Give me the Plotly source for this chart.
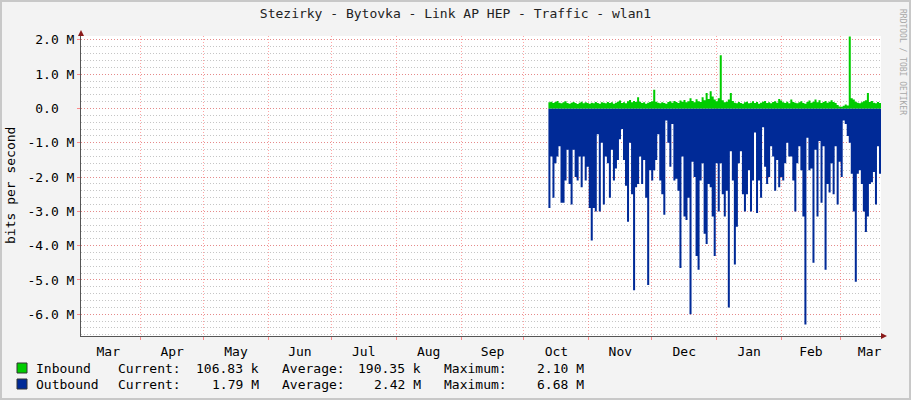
import pandas as pd
import plotly.graph_objects as go

# --- data (bits per second, in millions) ---
outbound = [
    -2.9, -1.4, -2.6, -1.6, -1.4, -1.1, -2.75, -2.75, -2.1, -1.2,
    -2.2, -2.8, -1.2, -2.0, -2.1, -1.4, -2.3, -1.4, -2.1, -1.7,
    -2.9, -3.85, -2.9, -3.0, -0.75, -3.0, -1.0, -2.8, -1.4, -1.6,
    -2.6, -1.2, -2.1, -1.75, -1.5, -0.9, -0.6, -1.5, -2.25, -3.3,
    -1.0, -2.5, -5.3, -2.3, -2.2, -1.4, -2.2, -1.5, -2.6, -5.15,
    -1.8, -2.1, -1.8, -1.5, -0.75, -2.1, -2.5, -3.1, -0.35, -1.0,
    -1.7, -0.45, -2.1, -2.05, -2.4, -4.65, -1.4, -3.15, -3.25, -2.6,
    -6.0, -1.55, -2.0, -4.3, -4.7, -2.1, -1.6, -3.65, -3.95, -2.2,
    -2.3, -3.15,
    -4.3, -1.6, -3.0, -1.6, -2.5, -3.15, -2.4, -5.8, -1.25, -2.1,
    -4.55, -3.45, -1.6, -1.25, -2.5, -3.0, -2.5, -1.8, -3.0, -2.1,
    -0.7, -3.05, -2.1, -2.6, -0.55, -1.7, -2.2, -2.0, -1.1, -1.4,
    -2.4, -1.5, -2.3, -2.0, -2.1, -1.6, -1.0, -1.4, -1.4, -2.1,
    -3.0, -1.6, -1.1,
    -1.8, -3.15, -6.3, -0.85, -1.8, -1.75, -4.5, -1.2, -3.15, -0.95,
    -2.75, -1.1, -4.7, -2.2, -2.45, -1.6, -2.5, -1.1, -2.8, -1.55,
    -2.0, -0.35, -0.45, -0.8, -1.0, -1.9, -3.0, -5.05, -1.9, -1.8,
    -2.2, -3.0, -3.6, -3.15, -2.2, -2.15, -1.85, -2.8, -1.1, -1.9,
    -0.95,
]
inbound = [
    0.18, 0.20, 0.16, 0.19, 0.22, 0.17, 0.15, 0.18, 0.21, 0.16,
    0.14, 0.17, 0.19, 0.16, 0.13, 0.17, 0.20, 0.15, 0.18, 0.16,
    0.14, 0.17, 0.15, 0.19, 0.16, 0.14, 0.18, 0.17, 0.15, 0.19,
    0.16, 0.18, 0.14, 0.17, 0.20, 0.23, 0.16, 0.18, 0.15, 0.21,
    0.25, 0.18, 0.22, 0.19, 0.33, 0.20, 0.16, 0.18, 0.14, 0.17,
    0.19, 0.21, 0.55, 0.20, 0.17, 0.15, 0.18, 0.16, 0.14, 0.19,
    0.21, 0.17, 0.22, 0.19, 0.16, 0.23, 0.20, 0.25, 0.18, 0.21,
    0.30, 0.22, 0.18, 0.27, 0.21, 0.19, 0.33, 0.24, 0.45, 0.28,
    0.50, 0.35, 0.26, 0.21, 0.30, 1.55, 0.24, 0.18, 0.20, 0.26,
    0.45, 0.22, 0.17, 0.15, 0.19, 0.16, 0.14, 0.18, 0.20, 0.15,
    0.17, 0.21, 0.16, 0.19, 0.14, 0.17, 0.20, 0.22, 0.16, 0.18,
    0.15, 0.19, 0.21, 0.17, 0.28, 0.23, 0.18, 0.16, 0.20, 0.15,
    0.26, 0.19, 0.17, 0.15, 0.18, 0.21, 0.16, 0.14, 0.19, 0.23,
    0.17, 0.20, 0.26, 0.18, 0.24, 0.16, 0.19, 0.22, 0.17, 0.20,
    0.24, 0.19, 0.16, 0.10, 0.06, 0.05, 0.08, 0.12, 0.09, 2.10,
    0.30, 0.26, 0.20, 0.17, 0.15, 0.18, 0.21, 0.24, 0.45, 0.19,
    0.22, 0.17, 0.15, 0.19, 0.16, 0.11,
]
ytick_vals = [2, 1, 0, -1, -2, -3, -4, -5, -6]
ytick_text = ["2.0 M", "1.0 M", "0.0\u00a0\u00a0", "-1.0 M", "-2.0 M", "-3.0 M", "-4.0 M", "-5.0 M", "-6.0 M"]
legend_rows = [
    ("Inbound", "106.83 k", "190.35 k", "2.10 M", "#00CC00"),
    ("Outbound", "1.79 M", "2.42 M", "6.68 M", "#002A97"),
]

n = len(outbound)
dates = pd.date_range("2010-10-12 16:00", "2011-03-20 11:00", periods=n)
M = 1e6

FONT = "DejaVu Sans Mono"
W, H = 911, 400
L, R, T, B = 81, 30, 36, 64
PW, PH = W - L - R, H - T - B


def px(x):
    return (x - L) / PW


def py(y):
    return (H - B - y) / PH


fig = go.Figure()
fig.add_trace(go.Scatter(x=dates, y=[v * M for v in outbound], mode="lines",
                         line=dict(width=0, shape="hv", color="#002A97"),
                         fill="tozeroy", fillcolor="#002A97", hoverinfo="skip"))
fig.add_trace(go.Scatter(x=dates, y=[v * M for v in inbound], mode="lines",
                         line=dict(width=0, shape="hv", color="#00CC00"),
                         fill="tozeroy", fillcolor="#00CC00", hoverinfo="skip"))

fig.update_layout(
    width=W, height=H, showlegend=False,
    margin=dict(l=L, r=R, t=T, b=B),
    paper_bgcolor="#F3F3F3", plot_bgcolor="#FFFFFF",
    font=dict(family=FONT, size=13, color="#000000"),
    title=dict(text="Stezirky - Bytovka - Link AP HEP - Traffic - wlan1",
               x=0.5, xanchor="center", y=1 - 13 / H, yanchor="middle",
               font=dict(family=FONT, size=13, color="#222222")),
)
fig.update_xaxes(
    type="date", range=["2010-03-03 12:00", "2011-03-20 11:00"],
    dtick="M1", tick0="2010-01-01", tickformat="%b", ticklabelmode="period",
    showgrid=True, gridcolor="rgba(255,90,90,0.55)", griddash="1px,2px", gridwidth=1,
    ticks="outside", ticklen=3, tickcolor="rgba(255,90,90,0.7)",
    showline=True, linecolor="#555555", linewidth=1,
    zeroline=False, tickfont=dict(family=FONT, size=13),
)
fig.update_yaxes(
    range=[-6.634 * M, 2.114 * M],
    tickmode="array", tickvals=[v * M for v in ytick_vals], ticktext=ytick_text,
    showgrid=True, gridcolor="rgba(255,90,90,0.55)", griddash="1px,2px", gridwidth=1,
    minor=dict(tickmode="linear", tick0=0, dtick=0.2 * M, showgrid=True,
               gridcolor="rgba(150,150,150,0.55)", griddash="1px,2px", ticks=""),
    ticks="outside", ticklen=3, tickcolor="rgba(255,90,90,0.7)",
    showline=True, linecolor="#555555", linewidth=1,
    zeroline=False, tickfont=dict(family=FONT, size=13),
)

# axis arrows
fig.add_shape(type="path", xref="paper", yref="paper", xsizemode="pixel", ysizemode="pixel",
              xanchor=0, yanchor=1, path="M -3,0 L 3,0 L 0,6 Z",
              fillcolor="#8B1A1A", line=dict(width=0))
fig.add_shape(type="path", xref="paper", yref="paper", xsizemode="pixel", ysizemode="pixel",
              xanchor=1, yanchor=0, path="M 0,-3 L 0,3 L 6,0 Z",
              fillcolor="#8B1A1A", line=dict(width=0))

# frame of the image
fig.add_shape(type="rect", xref="paper", yref="paper",
              x0=px(1), x1=px(W - 1), y0=py(H - 1), y1=py(1),
              line=dict(color="#C8C8C8", width=2), layer="below")

# y title and side text
fig.add_annotation(x=px(10), y=py(186), xref="paper", yref="paper", text="bits per second",
                   textangle=-90, showarrow=False, xanchor="center", yanchor="middle",
                   font=dict(family=FONT, size=13))
fig.add_annotation(x=px(903), y=py(62), xref="paper", yref="paper", text="RRDTOOL / TOBI OETIKER",
                   textangle=90, showarrow=False, xanchor="center", yanchor="middle",
                   font=dict(family=FONT, size=8, color="#A8A8A8"))

# legend block
for i, (name, cur, avg, mx, col) in enumerate(legend_rows):
    yc = 368 + 16 * i
    fig.add_shape(type="rect", xref="paper", yref="paper",
                  x0=px(17), x1=px(27), y0=py(yc - 5), y1=py(yc + 5),
                  fillcolor=col, line=dict(color="#333333", width=1))
    items = [(34, name, "left"), (116, "Current:", "left"), (261, cur, "right"),
             (280, "Average:", "left"), (423, avg, "right"),
             (442, "Maximum:", "left"), (586, mx, "right")]
    for xp, txt, anc in items:
        fig.add_annotation(x=px(xp), y=py(yc), xref="paper", yref="paper", text=txt,
                           xanchor=anc, yanchor="middle", showarrow=False,
                           font=dict(family=FONT, size=13))

fig.write_html("out.html", config={"displayModeBar": False},
               post_script="document.body.style.margin='0px';")
